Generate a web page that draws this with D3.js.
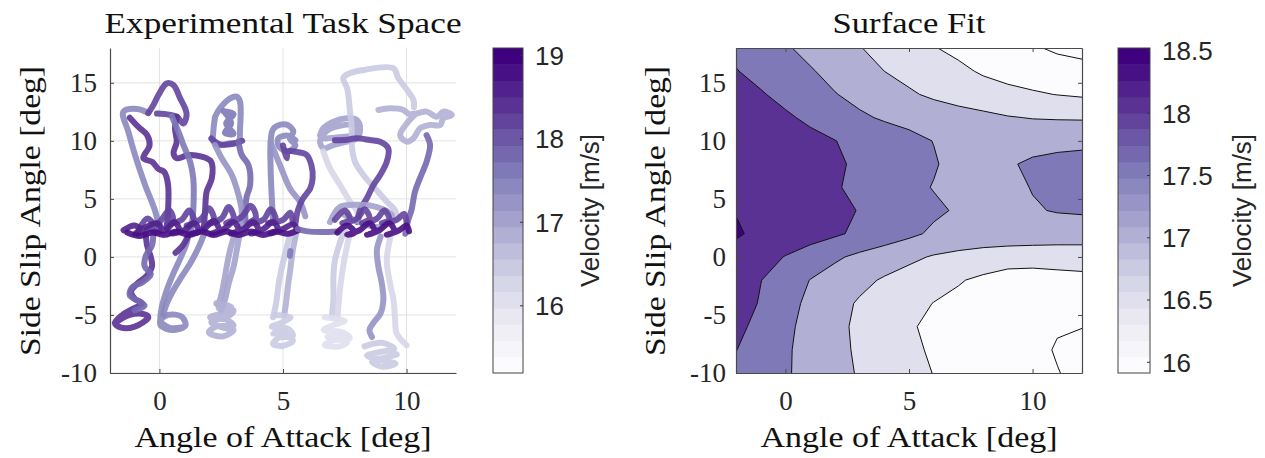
<!DOCTYPE html>
<html><head><meta charset="utf-8">
<script src="https://cdn.jsdelivr.net/npm/d3@7"></script>
<style>body{margin:0;background:#fff} svg{display:block}</style>
</head><body>
<svg id="chart" width="1265" height="458"></svg>
<script>
// ---------------- DATA ----------------
const xTicks = [0, 5, 10];
const yTicks = [-10, -5, 0, 5, 10, 15];
const xDomain = [-2, 12];
const yDomain = [-10, 18];
const cbar1Ticks = [16, 17, 18, 19];
const cbar1Range = [15.19, 19.08];
const cbar2Ticks = [16, 16.5, 17, 17.5, 18, 18.5];
const cbar2Range = [15.91, 18.52];
const nColorBands = 20;
const contourLevels = [16, 16.5, 17, 17.5, 18, 18.5];

// surface fit grid (velocity m/s), rows from y=18 down to y=-10
const gridX = [-2, -1, 0, 1, 2, 3, 4, 5, 6, 7, 8, 9, 10, 11, 12];
const gridY = [18, 16, 14, 12, 10, 8, 6, 4, 2, 0, -2, -4, -6, -8, -10];
const surfaceZ = [
  [17.90,17.72,17.55,17.37,17.19,17.02,16.85,16.69,16.52,16.40,16.28,16.16,16.05,15.93,15.88],
  [18.02,17.86,17.70,17.54,17.36,17.18,17.00,16.86,16.73,16.59,16.45,16.36,16.28,16.20,16.13],
  [18.22,18.04,17.87,17.69,17.52,17.37,17.21,17.06,16.92,16.80,16.70,16.61,16.55,16.49,16.44],
  [18.41,18.24,18.07,17.91,17.74,17.57,17.45,17.37,17.28,17.20,17.12,17.03,16.98,16.96,16.95],
  [18.42,18.33,18.24,18.13,18.01,17.87,17.75,17.62,17.49,17.35,17.30,17.32,17.36,17.40,17.42],
  [18.45,18.38,18.30,18.20,18.08,17.91,17.80,17.67,17.54,17.35,17.30,17.46,17.56,17.60,17.62],
  [18.47,18.40,18.32,18.20,18.05,17.87,17.75,17.62,17.48,17.35,17.30,17.38,17.52,17.60,17.64],
  [18.49,18.42,18.34,18.24,18.12,17.98,17.85,17.72,17.58,17.45,17.33,17.30,17.46,17.53,17.56],
  [18.53,18.44,18.32,18.20,18.07,17.90,17.76,17.60,17.42,17.32,17.27,17.25,17.24,17.23,17.23],
  [18.40,18.19,17.98,17.78,17.57,17.40,17.25,17.10,16.96,16.88,16.82,16.78,16.76,16.75,16.75],
  [18.27,18.01,17.75,17.49,17.31,17.12,16.95,16.81,16.68,16.54,16.40,16.24,16.22,16.30,16.35],
  [18.25,17.96,17.66,17.40,17.16,16.95,16.79,16.64,16.49,16.38,16.28,16.20,16.15,16.13,16.14],
  [18.12,17.86,17.60,17.35,17.12,16.91,16.73,16.55,16.40,16.27,16.16,16.08,16.04,16.02,16.01],
  [18.01,17.78,17.56,17.34,17.13,16.93,16.76,16.58,16.45,16.36,16.26,16.17,16.07,15.98,15.88],
  [17.92,17.75,17.55,17.35,17.15,16.96,16.80,16.64,16.49,16.39,16.30,16.20,16.11,16.01,15.93]
];

// experimental trajectories: [angle of attack, side slip] points, one velocity per stroke
const trajPoints = [
  // lower legs
  [[-0.55,2.0],[-0.5,1.0],[-0.35,0.0],[-0.3,-0.8],[-0.5,-1.6],[-0.9,-2.3],[-1.15,-3.0],[-1.0,-3.6],[-0.7,-4.0],[-1.1,-4.5],[-1.5,-5.0],[-1.8,-5.7],[-1.55,-6.1],[-1.0,-6.0],[-0.45,-5.2],[-0.6,-4.95],[-1.2,-5.0],[-1.8,-5.7]],
  [[-0.25,2.2],[-0.3,1.0],[-0.55,0.1],[-0.6,-0.8],[-0.35,-1.5],[-0.7,-2.2],[-1.1,-2.6],[-1.2,-3.3],[-0.85,-3.8],[-0.6,-4.2],[-1.0,-4.6]],
  [[1.2,2.2],[1.1,1.2],[0.85,-0.1],[0.57,-1.4],[0.3,-2.85],[0.1,-4.3],[0.03,-5.45],[0.05,-5.9],[0.5,-6.3],[1.05,-5.9],[0.9,-5.15],[0.35,-5.0],[0.05,-5.5],[0.4,-6.1],[0.95,-6.05]],
  [[1.85,2.2],[1.6,0.9],[1.25,-0.55],[0.9,-1.7],[0.57,-2.85],[0.3,-4.0],[0.15,-5.0]],
  [[1.2,2.0],[0.95,1.0],[0.65,0.35]],
  [[3.25,2.0],[3.13,0.6],[3.0,-0.85],[2.8,-2.3],[2.65,-3.7],[2.5,-4.6]],
  [[3.05,2.0],[2.86,0.6],[2.72,-0.85],[2.6,-2.3],[2.45,-3.7],[2.35,-4.1]],
  [[2.3,-4.0],[2.9,-4.3],[2.6,-4.8],[2.05,-5.2],[2.7,-5.4],[3.0,-5.9],[2.3,-6.0],[2.0,-6.5],[2.55,-6.85],[3.0,-6.3],[2.5,-6.05],[2.1,-5.6],[2.8,-5.1],[3.0,-4.6],[2.4,-4.4]],
  [[5.55,2.2],[5.4,0.6],[5.3,-1.0],[5.2,-2.5],[5.12,-4.0],[5.05,-5.0]],
  [[5.3,2.0],[5.05,0.0],[4.85,-2.0],[4.72,-4.0],[4.6,-5.2]],
  [[4.7,-5.0],[5.3,-5.2],[4.9,-5.7],[4.55,-6.0],[5.2,-6.2],[5.4,-6.8],[4.8,-7.0],[4.6,-7.5],[5.0,-7.65],[5.4,-7.2],[4.9,-6.5],[4.6,-6.6],[5.0,-6.0]],
  [[5.3,0.5],[5.28,0.1]],
  [[7.5,2.3],[7.3,1.2],[7.1,-0.3],[7.04,-1.7],[7.04,-3.7],[6.97,-5.15]],
  [[7.7,2.0],[7.5,0.0],[7.35,-2.0],[7.25,-4.0],[7.2,-5.3]],
  [[6.7,-5.2],[7.5,-5.5],[7.0,-5.9],[6.65,-6.3],[7.4,-6.5],[7.7,-7.0],[7.0,-7.2],[6.7,-7.6],[7.3,-7.7],[7.6,-7.3],[7.1,-6.8],[6.8,-6.9]],
  [[8.95,1.75],[8.8,0.6],[8.86,-0.85],[9.0,-2.3],[9.06,-3.7],[8.95,-4.85],[8.65,-5.7],[8.5,-6.3],[8.6,-6.9]],
  [[9.35,1.75],[9.2,-0.3],[9.33,-2.3],[9.47,-3.7],[9.53,-5.15],[9.6,-6.6],[10.0,-7.6]],
  [[8.3,-7.7],[9.0,-7.4],[9.5,-7.9],[8.9,-8.2],[8.4,-8.5],[9.0,-8.9],[9.55,-9.2],[9.0,-9.45],[8.6,-9.0],[9.3,-8.6],[9.6,-8.4]],
  // upper loops
  [[0.0,2.4],[-0.18,4.0],[-0.58,6.2],[-0.99,8.8],[-1.26,10.8],[-1.46,12.5],[-0.9,12.75],[-0.45,12.4]],
  [[0.3,2.5],[0.35,4.0],[0.35,6.2],[0.2,7.3],[-0.05,7.6],[-0.3,8.2],[-0.65,8.5],[-0.4,9.6],[-0.5,10.5],[-0.85,11.2],[-1.2,12.0]],
  [[-0.45,12.4],[-0.24,13.1],[-0.04,13.95],[0.3,14.95],[0.57,14.8],[0.84,13.66],[1.04,12.8],[1.1,12.23],[0.97,11.5],[0.7,12.08],[0.4,12.25],[-0.1,12.35]],
  [[0.7,12.08],[0.63,11.08],[0.7,9.93],[0.57,8.93],[0.7,8.5],[1.17,8.78],[1.71,8.64],[2.09,8.21],[2.12,6.77],[1.91,5.62],[1.85,4.04],[1.8,2.6]],
  [[0.5,12.1],[0.77,10.8],[0.97,9.64],[1.24,8.21],[1.37,6.77],[1.37,4.04],[1.3,2.5]],
  [[2.25,12.08],[2.18,10.8],[2.18,9.93],[2.39,9.64],[2.86,9.79],[3.2,9.93],[3.26,11.08],[3.26,13.38],[3.13,13.81],[2.86,13.66],[2.45,12.8],[2.25,12.08]],
  [[2.6,12.55],[3.0,12.3],[2.7,11.5],[3.0,10.6],[2.65,10.7],[2.9,11.5],[2.6,12.55]],
  [[2.1,10.2],[2.45,9.7],[3.0,9.75],[3.35,10.0]],
  [[3.2,9.93],[3.33,8.78],[3.6,7.92],[3.67,6.2],[3.53,5.19],[3.47,4.04],[3.5,2.6]],
  [[2.25,9.64],[2.52,8.5],[2.93,7.06],[3.2,5.34],[3.33,4.04],[3.3,2.6]],
  [[4.6,3.0],[4.55,5.0],[4.5,7.5],[4.5,9.9],[4.6,11.0],[4.9,11.4],[5.2,11.35],[5.42,10.8],[5.28,10.2],[5.5,9.6],[5.2,9.1],[4.85,9.5],[4.8,10.2],[5.2,10.45],[5.5,10.05]],
  [[4.5,9.9],[4.88,7.9],[5.28,5.9],[5.7,4.7],[5.9,3.5]],
  [[5.0,9.6],[5.15,8.5],[5.2,9.1],[5.55,9.05],[5.95,8.8],[6.15,7.9],[6.2,6.8],[6.1,5.9],[5.8,5.0],[5.6,4.0],[5.5,2.8]],
  [[6.5,10.5],[6.63,11.08],[7.04,11.65],[7.58,11.94],[7.98,11.8],[8.12,11.08],[7.98,10.22],[7.58,9.93],[7.04,9.64],[6.63,9.36],[6.5,10.0],[6.8,10.9],[7.3,11.3],[7.9,11.3],[7.8,10.5],[7.2,10.3],[6.7,10.2]],
  [[6.63,9.1],[6.9,7.63],[7.31,6.2],[7.71,4.76],[7.98,4.0],[8.1,3.2]],
  [[9.6,3.3],[9.53,4.04],[9.2,4.76],[8.72,5.91],[8.25,7.06],[7.91,8.21],[7.78,9.64],[7.78,11.08],[7.71,12.52],[7.6,14.5],[7.44,15.39],[7.58,15.7],[8.25,16.1],[9.47,16.25],[9.67,15.39],[10.07,14.24],[10.28,13.52],[10.3,12.9]],
  [[7.1,10.05],[7.6,10.1],[7.98,10.22],[8.52,10.07],[8.93,9.93],[9.26,9.36],[9.2,8.21],[8.93,7.06],[8.66,6.2],[8.39,5.05],[8.12,4.04],[8.0,3.0]],
  [[8.86,12.66],[9.33,12.8],[9.87,12.66],[10.1,12.3],[10.41,12.37],[10.81,12.52],[11.22,12.08],[11.49,12.52],[11.83,12.23],[11.49,11.94],[11.36,11.37],[10.95,11.37],[10.54,11.08],[10.28,10.22],[10.0,9.93],[9.74,10.5],[10.07,11.65],[10.41,12.37]],
  [[10.81,10.5],[10.95,9.64],[10.81,8.21],[10.54,6.77],[10.34,5.62],[10.2,4.04],[10.07,3.2],[9.95,2.0]],
  // band near beta = 2.5
  [[6.9,3.0],[7.3,4.3],[8.0,4.5],[8.8,4.3],[9.4,3.6],[9.0,2.6],[8.2,2.9],[7.5,3.6]],
  [[-0.9,2.0],[-0.5,3.3],[-0.2,2.6],[-0.5,2.4],[0.0,3.0],[0.4,4.0],[0.55,3.2],[0.3,2.8],[0.9,3.2],[1.2,4.0],[1.4,3.0],[1.1,2.7],[1.7,3.3],[2.0,4.2],[2.2,3.2],[1.9,2.8],[2.5,3.3],[2.8,4.3],[3.0,3.3],[2.7,2.9],[3.3,3.4],[3.7,4.4],[3.9,3.4],[3.6,2.9],[4.2,3.2],[4.5,4.1],[4.7,3.2],[4.4,2.9],[5.0,3.2],[5.3,3.8],[5.4,2.9]],
  [[-1.45,2.3],[-1.0,2.7],[-0.7,2.2],[-1.0,2.0],[-0.6,2.5],[-0.1,2.9],[0.1,2.3],[-0.2,2.1],[0.3,2.4],[0.6,3.0],[0.8,2.3],[0.5,2.0],[1.0,2.3],[1.4,2.9],[1.6,2.2],[1.3,2.0],[1.8,2.4],[2.2,3.1],[2.4,2.3],[2.1,2.0],[2.6,2.4],[3.0,3.0],[3.2,2.3],[2.9,2.0],[3.4,2.4],[3.8,3.0],[4.0,2.3],[3.7,2.0],[4.2,2.4],[4.6,3.0],[4.8,2.3],[4.5,2.0],[5.0,2.4],[5.4,2.8],[5.6,2.3]],
  [[-1.3,2.1],[-0.8,1.8],[-0.3,2.1],[0.2,1.9],[0.7,2.2],[1.2,1.9],[1.7,2.2],[2.2,1.9],[2.7,2.2],[3.2,1.9],[3.7,2.2],[4.2,1.9],[4.7,2.2],[5.2,2.0],[5.6,2.3]],
  [[5.6,2.4],[6.0,2.2],[6.6,2.15],[7.2,2.2]],
  [[7.1,3.2],[7.5,4.0],[7.7,3.2],[7.4,2.9],[8.0,3.3],[8.3,4.1],[8.5,3.3],[8.2,2.9],[8.8,3.3],[9.1,4.0],[9.3,3.2],[9.0,2.9],[9.6,3.2],[9.9,3.7],[10.0,3.0]],
  [[7.2,2.1],[7.6,2.7],[7.9,2.1],[7.6,1.9],[8.1,2.3],[8.5,2.9],[8.7,2.2],[8.4,1.9],[8.9,2.3],[9.3,2.9],[9.5,2.2],[9.2,1.9],[9.7,2.3],[10.0,2.7],[10.1,2.2]]
];
const trajVelocity = [
  18.4, 17.9, 17.4, 17.5, 18.4, 17.0, 17.1, 16.8, 16.9, 16.5, 16.4, 17.6,
  16.5, 16.2, 16.0, 17.2, 16.2, 16.4,
  17.4, 18.4, 18.3, 18.4, 17.6, 17.5, 17.6, 18.3, 17.9, 17.2,
  17.4, 17.2, 18.3, 17.1, 16.2, 16.4, 18.3, 16.9, 17.9,
  17.0, 18.3, 18.6, 18.8, 17.8, 18.3, 18.7
];

// ---------------- DRAWING ----------------
const svg = d3.select('#chart');
const SERIF = '"Liberation Serif","Times New Roman",serif';
const SANS = '"Liberation Sans",Arial,Helvetica,sans-serif';
const TXT = '#262626';
const AX = '#4a4a4a';

function bandColor(v, range) {
  let k = Math.floor((v - range[0]) / (range[1] - range[0]) * nColorBands);
  k = Math.max(0, Math.min(nColorBands - 1, k));
  return d3.interpolatePurples(k / (nColorBands - 1));
}

const L = {x0: 110, x1: 456, y0: 48, y1: 373};
const R = {x0: 736, x1: 1082, y0: 48, y1: 373};
const xL = d3.scaleLinear(xDomain, [L.x0, L.x1]);
const yL = d3.scaleLinear(yDomain, [L.y1, L.y0]);
const xR = d3.scaleLinear(xDomain, [R.x0, R.x1]);
const yR = d3.scaleLinear(yDomain, [R.y1, R.y0]);

const defs = svg.append('defs');
defs.append('clipPath').attr('id', 'clipL').append('rect')
  .attr('x', L.x0).attr('y', L.y0).attr('width', L.x1 - L.x0).attr('height', L.y1 - L.y0);
defs.append('clipPath').attr('id', 'clipR').append('rect')
  .attr('x', R.x0).attr('y', R.y0).attr('width', R.x1 - R.x0).attr('height', R.y1 - R.y0);

// ---- Left panel grid ----
const gL = svg.append('g');
gL.append('g').selectAll('line').data(xTicks).join('line')
  .attr('x1', d => xL(d)).attr('x2', d => xL(d)).attr('y1', L.y0).attr('y2', L.y1)
  .attr('stroke', '#e2e2e2').attr('stroke-width', 1);
gL.append('g').selectAll('line').data(yTicks).join('line')
  .attr('x1', L.x0).attr('x2', L.x1).attr('y1', d => yL(d)).attr('y2', d => yL(d))
  .attr('stroke', '#e2e2e2').attr('stroke-width', 1);

// trajectories
const line = d3.line().x(d => xL(d[0])).y(d => yL(d[1])).curve(d3.curveCatmullRom.alpha(0.5));
gL.append('g').attr('clip-path', 'url(#clipL)').selectAll('path')
  .data(trajPoints.map((p, i) => ({p, v: trajVelocity[i]}))).join('path')
  .attr('d', d => line(d.p))
  .attr('fill', 'none')
  .attr('stroke', d => bandColor(d.v, cbar1Range))
  .attr('stroke-width', 6)
  .attr('stroke-linecap', 'round').attr('stroke-linejoin', 'round')
  .attr('stroke-opacity', 0.9);

function styleAxis(g, labels) {
  g.select('.domain').attr('stroke', AX).attr('stroke-width', 1.2);
  g.selectAll('.tick line').attr('stroke', AX).attr('stroke-width', 1);
  g.selectAll('.tick text').attr('fill', TXT).style('font-family', SERIF).style('font-size', '27px');
  if (!labels) g.selectAll('.tick text').remove();
}
const fmt = d => String(d);

// left axes (box off)
const axLB = gL.append('g').attr('transform', `translate(0,${L.y1})`)
  .call(d3.axisBottom(xL).tickValues(xTicks).tickFormat(fmt).tickSizeInner(-4).tickSizeOuter(0).tickPadding(20));
styleAxis(axLB, true);
axLB.selectAll('.tick text').attr('y', 37).attr('dy', 0);
const axLL = gL.append('g').attr('transform', `translate(${L.x0},0)`)
  .call(d3.axisLeft(yL).tickValues(yTicks).tickFormat(fmt).tickSizeInner(-4).tickSizeOuter(0).tickPadding(13));
styleAxis(axLL, true);
axLL.selectAll('.tick text').attr('dy', '0.33em');

// ---- Right panel: filled contours ----
const gR = svg.append('g');
const gC = gR.append('g').attr('clip-path', 'url(#clipR)');
gC.append('rect').attr('x', R.x0).attr('y', R.y0).attr('width', R.x1 - R.x0).attr('height', R.y1 - R.y0)
  .attr('fill', bandColor(cbar2Range[0], cbar2Range));
const nx = gridX.length, ny = gridY.length;
const dxg = gridX[1] - gridX[0], dyg = gridY[1] - gridY[0];
const proj = d3.geoTransform({
  point(u, v) { this.stream.point(xR(gridX[0] + (u - 0.5) * dxg), yR(gridY[0] + (v - 0.5) * dyg)); }
});
const cpath = d3.geoPath(proj);
const bands = d3.contours().size([nx, ny]).thresholds(contourLevels)(surfaceZ.flat());
gC.selectAll('path').data(bands).join('path')
  .attr('d', cpath)
  .attr('fill', d => bandColor(d.value + 1e-6, cbar2Range))
  .attr('fill-rule', 'evenodd')
  .attr('stroke', '#111').attr('stroke-width', 1).attr('stroke-linejoin', 'round');

// right axes (box on, ticks inside)
const axRB = gR.append('g').attr('transform', `translate(0,${R.y1})`)
  .call(d3.axisBottom(xR).tickValues(xTicks).tickFormat(fmt).tickSizeInner(-4).tickSizeOuter(0).tickPadding(20));
styleAxis(axRB, true);
axRB.selectAll('.tick text').attr('y', 37).attr('dy', 0);
const axRT = gR.append('g').attr('transform', `translate(0,${R.y0})`)
  .call(d3.axisTop(xR).tickValues(xTicks).tickSizeInner(-4).tickSizeOuter(0));
styleAxis(axRT, false);
const axRL = gR.append('g').attr('transform', `translate(${R.x0},0)`)
  .call(d3.axisLeft(yR).tickValues(yTicks).tickFormat(fmt).tickSizeInner(-4).tickSizeOuter(0).tickPadding(10));
styleAxis(axRL, true);
axRL.selectAll('.tick text').attr('dy', '0.33em');
const axRR = gR.append('g').attr('transform', `translate(${R.x1},0)`)
  .call(d3.axisRight(yR).tickValues(yTicks).tickSizeInner(-4).tickSizeOuter(0));
styleAxis(axRR, false);

// ---- colorbars ----
function colorbar(x0, x1, range, ticks, labelX) {
  const s = d3.scaleLinear(range, [373, 48]);
  const g = svg.append('g');
  const step = (range[1] - range[0]) / nColorBands;
  const ks = d3.range(nColorBands);
  g.selectAll('rect.b').data(ks).join('rect').attr('class', 'b')
    .attr('x', x0).attr('width', x1 - x0)
    .attr('y', k => s(range[0] + (k + 1) * step))
    .attr('height', k => s(range[0] + k * step) - s(range[0] + (k + 1) * step) + 0.5)
    .attr('fill', k => bandColor(range[0] + (k + 0.5) * step, range));
  const ax = g.append('g').attr('transform', `translate(${x1},0)`)
    .call(d3.axisRight(s).tickValues(ticks).tickFormat(fmt).tickSizeInner(-3).tickSizeOuter(0).tickPadding(12));
  ax.select('.domain').remove();
  ax.selectAll('.tick line').attr('stroke', '#333');
  ax.selectAll('.tick text').attr('fill', TXT).style('font-family', SANS).style('font-size', '26px').attr('dy', '0.36em');
  g.append('rect').attr('x', x0).attr('y', 48).attr('width', x1 - x0).attr('height', 325)
    .attr('fill', 'none').attr('stroke', '#444').attr('stroke-width', 1);
  g.append('text').attr('transform', `translate(${labelX},210.5) rotate(-90)`)
    .attr('text-anchor', 'middle').attr('fill', TXT)
    .style('font-family', SANS).style('font-size', '26px').text('Velocity [m/s]');
}
colorbar(493, 523, cbar1Range, cbar1Ticks, 599);
colorbar(1118, 1150, cbar2Range, cbar2Ticks, 1251);

// ---- titles and labels ----
function label(text, x, y, len, rot) {
  return svg.append('text')
    .attr('transform', `translate(${x},${y})` + (rot ? ' rotate(-90)' : ''))
    .attr('text-anchor', 'middle').attr('fill', '#111')
    .style('font-family', SERIF).style('font-size', '29px')
    .attr('textLength', len).attr('lengthAdjust', 'spacingAndGlyphs')
    .text(text);
}
label('Experimental Task Space', 283, 33, 357, false);
label('Surface Fit', 909, 33, 153, false);
label('Angle of Attack [deg]', 283, 447, 297, false);
label('Angle of Attack [deg]', 909, 447, 297, false);
label('Side Slip Angle [deg]', 40, 211, 290, true);
label('Side Slip Angle [deg]', 665, 211, 290, true);
</script>
</body></html>
